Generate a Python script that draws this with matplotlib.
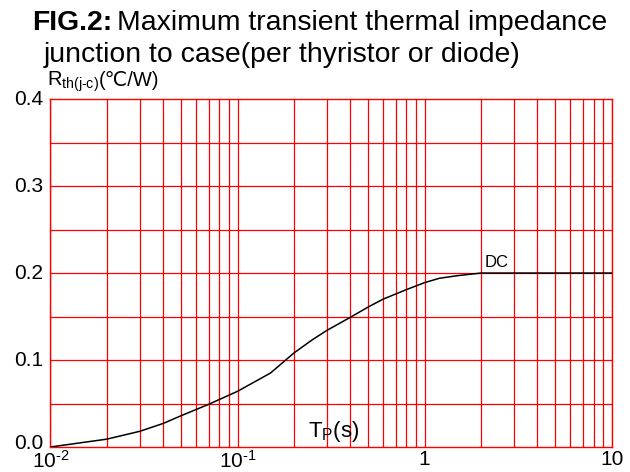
import numpy as np
import matplotlib
matplotlib.use('Agg')
import matplotlib.pyplot as plt
import matplotlib.transforms as mtransforms
from matplotlib.ticker import FixedLocator, LogLocator, NullFormatter

plt.rcParams['font.family'] = ['Liberation Sans', 'DejaVu Sans']
plt.rcParams['mathtext.fontset'] = 'custom'
plt.rcParams['mathtext.rm'] = 'Liberation Sans'
plt.rcParams['mathtext.it'] = 'Liberation Sans:italic'
plt.rcParams['mathtext.bf'] = 'Liberation Sans:bold'

# curve (pulse time in s, Zth in C/W)
tp = [0.01, 0.02, 0.03, 0.04, 0.05, 0.07, 0.1, 0.15, 0.2, 0.25, 0.3, 0.4,
      0.5, 0.6, 0.8, 1.0, 1.2, 1.5, 2.0, 10.0]
zth = [0.0, 0.009, 0.018, 0.027, 0.036, 0.049, 0.064, 0.085, 0.108, 0.123,
       0.134, 0.149, 0.161, 0.170, 0.181, 0.189, 0.194, 0.197, 0.200, 0.200]

x_ticks = [0.01, 0.1, 1, 10]
x_labels = [r'$\mathregular{10^{\text{-}2}}$', r'$\mathregular{10^{\text{-}1}}$', '1', '10']
y_ticks = [0.0, 0.1, 0.2, 0.3, 0.4]
y_grid = [0.05, 0.1, 0.15, 0.2, 0.25, 0.3, 0.35]

fig = plt.figure(figsize=(6.3, 4.72), dpi=100)
ax = fig.add_axes([0.080, 0.053, 0.891, 0.737])

ax.set_xscale('log')
ax.set_xlim(0.01, 10)
ax.set_ylim(0, 0.4)

# red log grid
ax.xaxis.set_major_locator(FixedLocator(x_ticks))
ax.xaxis.set_minor_locator(LogLocator(base=10, subs=np.arange(2, 10)))
ax.xaxis.set_minor_formatter(NullFormatter())
ax.set_xticklabels(x_labels)
ax.set_yticks(y_ticks)
ax.set_yticklabels([f'{v:.1f}' for v in y_ticks])
ax.grid(True, which='both', axis='x', color='red', lw=0.9)
for v in y_grid:
    ax.axhline(v, color='red', lw=0.9, zorder=1)
for s in ax.spines.values():
    s.set_color('red')
    s.set_linewidth(1.0)
ax.tick_params(which='both', length=0, labelsize=15)
ax.tick_params(axis='y', pad=5)
ax.tick_params(axis='x', pad=2)
for lab in ax.get_yticklabels():
    lab.set_va('center')
# lift the bottom label a little so it clears the 10^-2 label
ylabs = ax.get_yticklabels()
ylabs[0].set_transform(ylabs[0].get_transform() +
                       mtransforms.ScaledTranslation(0, 3 / 100, fig.dpi_scale_trans))

ax.plot(tp, zth, color='black', lw=1.1, zorder=3)

ax.text(2.1, 0.207, 'DC', fontsize=12)
ax.text(0.505, 0.008, r'$\mathregular{T_P}$(s)', transform=ax.transAxes,
        fontsize=16, ha='center', va='bottom')

# title in two lines, bold prefix
r = fig.canvas.get_renderer()
t1 = fig.text(32 / 630, 1 - 30 / 472, 'FIG.2:', fontsize=20.4, fontweight='bold',
              va='baseline')
bb = t1.get_window_extent(r)
fig.text(bb.x1 / 630 + 0.008, 1 - 30 / 472, 'Maximum transient thermal impedance',
         fontsize=20.4, va='baseline')
fig.text(44 / 630, 1 - 62 / 472, 'junction to case(per thyristor or diode)',
         fontsize=20.4, va='baseline')

t3 = fig.text(47 / 630, 1 - 86 / 472, r'$\mathregular{R_{\text{th(j-c)}}}$',
              fontsize=14.5, va='baseline')
bb = t3.get_window_extent(r)
fig.text(bb.x1 / 630, 1 - 86 / 472, '(℃/W)', fontsize=14.5, va='baseline')

fig.savefig('out.png', dpi=100)
